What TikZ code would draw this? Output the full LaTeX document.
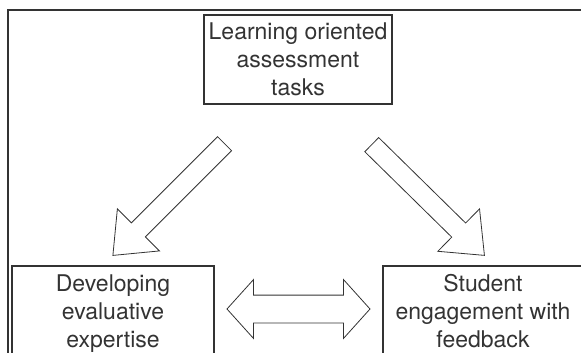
\documentclass[tikz,border=0pt]{standalone}
\usepackage{fontspec}
\setmainfont{TeX Gyre Heros}
\usetikzlibrary{shapes.arrows}

\begin{document}
\begin{tikzpicture}[x=1pt, y=-1pt,
		box/.style={draw=black!80, line width=1.1pt, align=center, inner sep=0pt, text=black!80, font=\fontsize{23}{28}\selectfont},
		fatarrow/.style={draw=black!80, line width=0.8pt, single arrow, inner xsep=0pt, inner ysep=9.5pt, minimum height=158pt, minimum width=58.7pt, single arrow head extend=19.85pt, single arrow tip angle=79},
		twoway/.style={draw=black!80, line width=0.8pt, double arrow, inner xsep=0pt, inner ysep=13.5pt, minimum height=143pt, minimum width=58pt, double arrow head extend=15.5pt, double arrow tip angle=96}]
		\useasboundingbox (0,0) rectangle (581,353);
		% Frame
		\draw[black!80, line width=1.1pt] (8,400) -- (8,10) -- (600,10);

		% Nodes
		\node[box, minimum width=188pt, minimum height=89pt] (tasks) at (298,59.5) {Learning oriented\\assessment\\tasks};
		\node[box, minimum width=202pt, minimum height=96pt] (expertise) at (113,314) {Developing\\evaluative\\expertise};
		\node[box, minimum width=200pt, minimum height=91pt] (feedback) at (483,311.5) {Student\\engagement with\\feedback};

		% Arrows
		\node[fatarrow, rotate=225] (toexpertise) at (173,195.3) {};
		\node[fatarrow, rotate=-44.5] (tofeedback) at (423.8,195.8) {};
		\node[twoway] (link) at (298.5,309) {};
	\end{tikzpicture}
\end{document}
